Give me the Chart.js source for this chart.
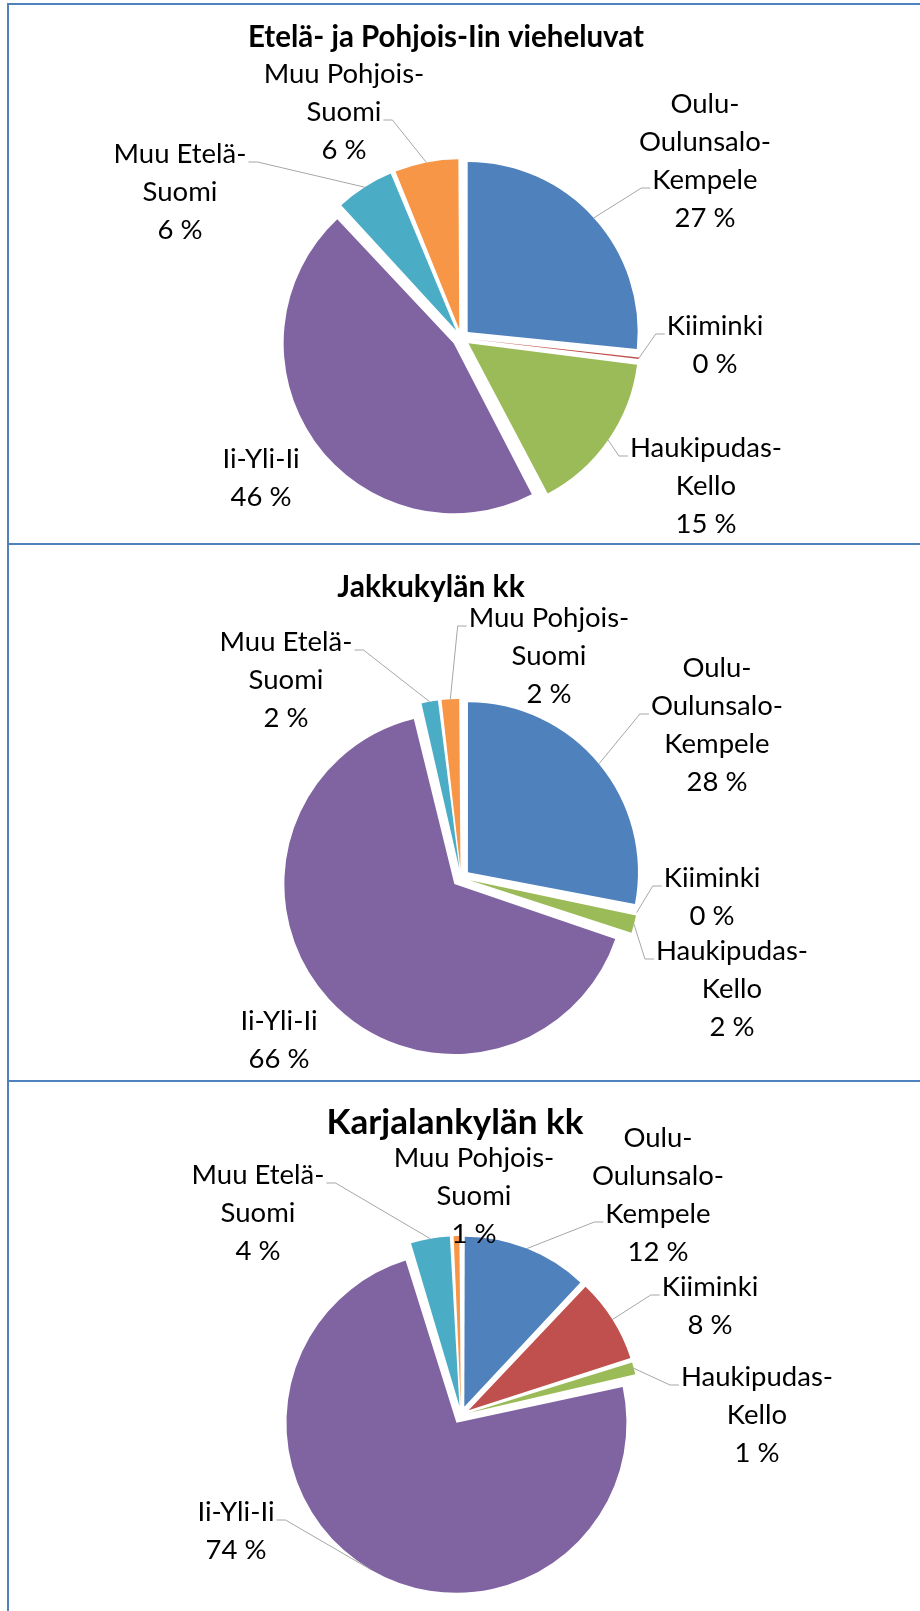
<!DOCTYPE html>
<html lang="fi">
<head>
<meta charset="utf-8">
<title>Vieheluvat</title>
<script src="https://cdn.jsdelivr.net/npm/chart.js@4.4.1/dist/chart.umd.min.js"></script>
<style>
    body { margin: 0; background: #fff; }
    #page { position: relative; width: 920px; height: 1611px; overflow: hidden; background: #fff; }
    #page canvas { position: absolute; left: 0; }
    .rule { position: absolute; background: #4f81bd; }
</style>
</head>
<body>
<div id="page">
    <canvas id="chart1" width="920" height="543" style="top:0"></canvas>
    <canvas id="chart2" width="920" height="538" style="top:543px"></canvas>
    <canvas id="chart3" width="920" height="530" style="top:1081px"></canvas>
    <div class="rule" style="left:7px;top:3px;width:913px;height:2px"></div>
    <div class="rule" style="left:7px;top:3px;width:2px;height:1608px"></div>
    <div class="rule" style="left:7px;top:543px;width:913px;height:2px"></div>
    <div class="rule" style="left:7px;top:1080px;width:913px;height:2px"></div>
</div>
<script>
// Alueet (sama järjestys kaikissa kolmessa kuvassa)
const categories = ['Oulu-Oulunsalo-Kempele', 'Kiiminki', 'Haukipudas-Kello', 'Ii-Yli-Ii', 'Muu Etelä-Suomi', 'Muu Pohjois-Suomi'];
// Excelin rivitys selitteille
const categoryLines = [
    ['Oulu-', 'Oulunsalo-', 'Kempele'],
    ['Kiiminki'],
    ['Haukipudas-', 'Kello'],
    ['Ii-Yli-Ii'],
    ['Muu Etelä-', 'Suomi'],
    ['Muu Pohjois-', 'Suomi']
];
const sliceColors = ['#4F81BD', '#C0504D', '#9BBB59', '#8064A2', '#4BACC6', '#F79646'];

const chartTitles = ['Etelä- ja Pohjois-Iin vieheluvat', 'Jakkukylän kk', 'Karjalankylän kk'];

// Osuudet (%) luettu kuvasta
const valuesEtelaPohjois = [26.6, 0.4, 15.3, 45.8, 5.7, 6.2];
const valuesJakkukyla = [28.0, 0.2, 1.9, 66.2, 1.8, 1.9];
const valuesKarjalankyla = [12.0, 8.1, 1.4, 73.8, 3.9, 0.8];

const LABEL_FONT = 'Lato, "Open Sans", sans-serif';
const LABEL_SIZE = 27.5;
const LINE_H = 38;

// Selitteiden paikat suhteessa ympyrän keskipisteeseen: [dx, dy (1. rivin perusviiva), johtoviivan rivi, puoli]
const layouts = [
    {
        padTop: 133,
        title: { x: 446, y: 47, size: 29.5 },
        labels: [[244, -225, 2, 'left'], [254, -3, 0, 'left'], [245, 119, 0, 'left'],
                 [-200, 130, 0, null], [-281, -175, 0, 'right'], [-117, -255, 1, 'right']]
    },
    {
        padTop: 132,
        title: { x: 431, y: 54, size: 30 },
        labels: [[256, -201, 1, 'left'], [251, 9, 0, 'left'], [271, 82, 0, 'left'],
                 [-182, 152, 0, null], [-175, -227, 0, 'right'], [88, -251, 0, 'left']]
    },
    {
        padTop: 138,
        title: { x: 455, y: 53, size: 35 },
        labels: [[197, -268, 2, 'left'], [249, -119, 0, 'left'], [296, -29, 0, 'left'],
                 [-225, 106, 0, 'right'], [-203, -231, 0, 'right'], [13, -248, 0, null]]
    }
];

// Chart.js kasvattaa offsetin kanssa osan sektoreiden sädettä - Excelissä kaikki ovat yhtä suuria
const baseArcDraw = Chart.ArcElement.prototype.draw;
Chart.ArcElement.prototype.draw = function(ctx) {
    const shift = (this.options.offset || 0) / 4;
    const fix = 1 - Math.sin(Math.min(Math.PI, this.circumference || 0));
    const r = this.outerRadius;
    this.outerRadius = r - shift * fix;
    baseArcDraw.call(this, ctx);
    this.outerRadius = r;
};

// Otsikko, selitteet ja johtoviivat
const labelPlugin = {
    id: 'pieLabels',
    afterDatasetsDraw(chart, args, opts) {
        const ctx = chart.ctx;
        const lay = opts.layout;
        const meta = chart.getDatasetMeta(0);
        const values = chart.data.datasets[0].data;
        const total = values.reduce((a, b) => a + b, 0);

        ctx.save();
        ctx.fillStyle = '#000';
        ctx.textAlign = 'center';
        ctx.textBaseline = 'alphabetic';
        ctx.font = `bold ${lay.title.size}px ${LABEL_FONT}`;
        ctx.fillText(opts.title, lay.title.x, lay.title.y);

        ctx.font = `${LABEL_SIZE}px ${LABEL_FONT}`;
        meta.data.forEach((arc, i) => {
            const p = arc.getProps(['x', 'y', 'startAngle', 'endAngle', 'outerRadius'], true);
            const mid = (p.startAngle + p.endAngle) / 2;
            const shift = (arc.options.offset || 0) / 4;
            const ex = p.x + Math.cos(mid) * (shift + p.outerRadius);
            const ey = p.y + Math.sin(mid) * (shift + p.outerRadius);

            const [dx, dy, lineIdx, side] = lay.labels[i];
            const lines = categoryLines[i].concat(Math.round(values[i] / total * 100) + ' %');
            const lx = p.x + dx;
            const ly = p.y + dy;

            if (side) {
                const w = ctx.measureText(lines[lineIdx]).width;
                const sy = ly + lineIdx * LINE_H - 1;
                const sx = side === 'left' ? lx - w / 2 - 2 : lx + w / 2 + 2;
                const stub = side === 'left' ? sx - 9 : sx + 9;
                ctx.strokeStyle = '#a6a6a6';
                ctx.lineWidth = 1;
                ctx.beginPath();
                ctx.moveTo(sx, sy);
                ctx.lineTo(stub, sy);
                ctx.lineTo(ex, ey);
                ctx.stroke();
            }
            lines.forEach((t, k) => ctx.fillText(t, lx, ly + k * LINE_H));
        });
        ctx.restore();
    }
};

function makePie(canvasId, title, values, layout) {
    const ctx = document.getElementById(canvasId).getContext('2d');
    return new Chart(ctx, {
        type: 'pie',
        data: {
            labels: categories,
            datasets: [{
                data: values,
                backgroundColor: sliceColors,
                borderWidth: 0,
                offset: 36
            }]
        },
        options: {
            responsive: false,
            animation: false,
            radius: 170,
            layout: { padding: { top: layout.padTop, left: 2, right: 0, bottom: 0 } },
            plugins: {
                legend: { display: false },
                tooltip: { enabled: false },
                pieLabels: { title: title, layout: layout }
            }
        },
        plugins: [labelPlugin]
    });
}

makePie('chart1', chartTitles[0], valuesEtelaPohjois, layouts[0]);
makePie('chart2', chartTitles[1], valuesJakkukyla, layouts[1]);
makePie('chart3', chartTitles[2], valuesKarjalankyla, layouts[2]);
</script>
</body>
</html>
